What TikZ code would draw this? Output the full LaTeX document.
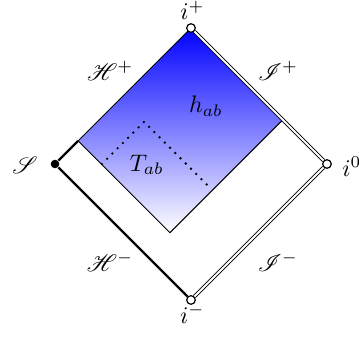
\documentclass[tikz,border=0pt]{standalone}
\usepackage{mathrsfs}
\begin{document}
\begin{tikzpicture}[x=1cm,y=1cm,
  opendot/.style={circle,draw,fill=white,inner sep=0pt,minimum size=3.6pt,line width=0.5pt},
  soliddot/.style={circle,fill=black,inner sep=0pt,minimum size=3.6pt},
  bound/.style={line width=1pt},
  nullinf/.style={double,line width=0.4pt,double distance=0.8pt},
  dotpath/.style={line width=1.1pt,dash pattern=on 0pt off 3.1pt,line cap=round},
  lab/.style={inner sep=0pt}]
\useasboundingbox (-0.809,-2.559) rectangle (4.471,2.412);
\coordinate (cS) at (0,0);
\coordinate (cIp) at (2,2);
\coordinate (cI0) at (4,0);
\coordinate (cIm) at (2,-2);
\coordinate (L) at (0.34,0.34);
\coordinate (R) at (3.35,0.65);
\coordinate (B) at (1.69,-1.01);
\shade[top color=blue,bottom color=white,draw=black,line width=0.4pt] (L) -- (cIp) -- (R) -- (B) -- cycle;
\coordinate (d1) at (0.69,0);
\coordinate (d2) at (1.31,0.62);
\coordinate (d3) at (2.27,-0.34);
\draw[dotpath] (d1) -- (d2) -- (d3);
\node[soliddot] (S) at (cS) {};
\node[opendot] (ip) at (cIp) {};
\node[opendot] (i0) at (cI0) {};
\node[opendot] (im) at (cIm) {};
\draw[bound] (S) -- (L);
\draw[bound] (S) -- (im);
\draw[nullinf] (ip) -- (i0);
\draw[nullinf] (i0) -- (im);
\node[lab,anchor=base] (tip) at (2.02,2.12) {$i^+$};
\node[lab,anchor=base] (tim) at (2.02,-2.34) {$i^-$};
\node[lab,anchor=base west] (ti0) at (4.22,-0.18) {$i^0$};
\node[lab] (tS) at (-0.44,-0.02) {$\mathscr{S}$};
\node[lab] (tHp) at (0.81,1.37) {$\mathscr{H}^+$};
\node[lab] (tIp) at (3.28,1.37) {$\mathscr{I}^+$};
\node[lab] (tHm) at (0.81,-1.44) {$\mathscr{H}^-$};
\node[lab] (tIm) at (3.28,-1.44) {$\mathscr{I}^-$};
\node[lab] (th) at (2.22,0.85) {$h_{ab}$};
\node[lab] (tT) at (1.35,-0.015) {$T_{ab}$};
\end{tikzpicture}
\end{document}
